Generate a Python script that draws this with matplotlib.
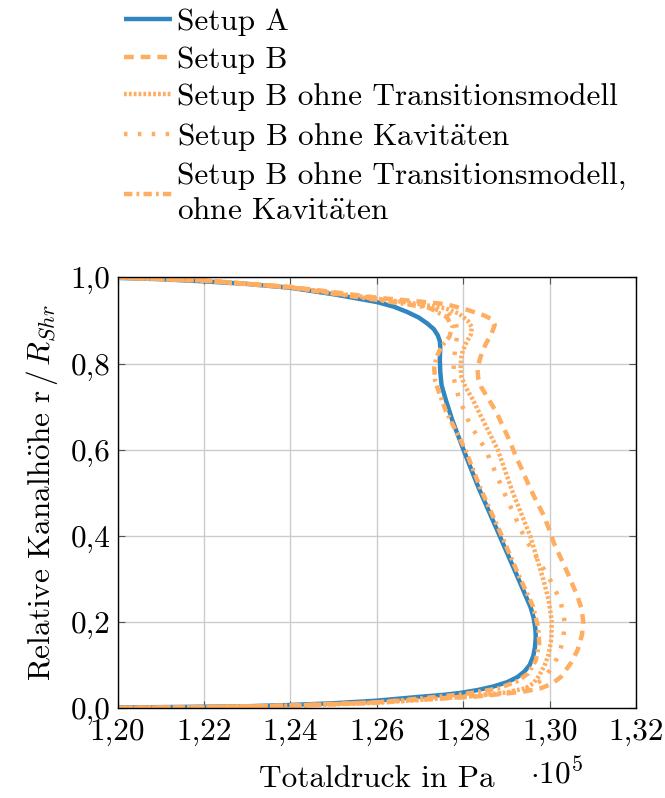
import matplotlib
matplotlib.use("Agg")
import matplotlib.pyplot as plt
from matplotlib.ticker import FuncFormatter

plt.rcParams['font.family'] = ['cmr10', 'DejaVu Serif']
plt.rcParams['mathtext.fontset'] = 'cm'
plt.rcParams['axes.unicode_minus'] = False
plt.rcParams['lines.scale_dashes'] = False

FS = 22.5

# Total pressure in 1e5 Pa, relative channel height r/R_Shr
setup_a_p = [1.2000, 1.2100, 1.2200, 1.2300, 1.2400, 1.2500, 1.2600, 1.2640, 1.2670, 1.2697,
             1.2717, 1.2732, 1.2741, 1.2746, 1.2747, 1.2746, 1.2747, 1.2750, 1.2760, 1.2775,
             1.2801, 1.2835, 1.2880, 1.2926, 1.2956, 1.2963, 1.2967, 1.2968, 1.2966, 1.2962,
             1.2954, 1.2942, 1.2926, 1.2902, 1.2870, 1.2835, 1.2794, 1.2750, 1.2700, 1.2600,
             1.2500, 1.2400, 1.2300, 1.2200, 1.2000]
setup_a_h = [0.999, 0.996, 0.991, 0.985, 0.976, 0.961, 0.943, 0.932, 0.920, 0.907,
             0.893, 0.880, 0.866, 0.852, 0.838, 0.810, 0.780, 0.750, 0.715, 0.668,
             0.599, 0.513, 0.410, 0.304, 0.234, 0.210, 0.185, 0.165, 0.140, 0.120,
             0.100, 0.085, 0.072, 0.060, 0.050, 0.042, 0.035, 0.030, 0.026, 0.017,
             0.011, 0.007, 0.004, 0.003, 0.001]

setup_b_p = [1.2000, 1.2200, 1.2400, 1.2500, 1.2600, 1.2700, 1.2760, 1.2809, 1.2848, 1.2868,
             1.2873, 1.2866, 1.2852, 1.2840, 1.2833, 1.2835, 1.2842, 1.2856, 1.2877, 1.2893,
             1.2907, 1.2923, 1.2937, 1.2952, 1.2968, 1.2984, 1.2998, 1.3010, 1.3042, 1.3065,
             1.3074, 1.3078, 1.3075, 1.3065, 1.3049, 1.3026, 1.3005, 1.2980, 1.2945, 1.2903,
             1.2833, 1.2731, 1.2655, 1.2600, 1.2400, 1.2200, 1.2000]
setup_b_h = [1.000, 0.993, 0.978, 0.966, 0.953, 0.944, 0.938, 0.925, 0.912, 0.902,
             0.890, 0.870, 0.845, 0.815, 0.789, 0.765, 0.745, 0.722, 0.687, 0.652,
             0.622, 0.582, 0.552, 0.517, 0.483, 0.452, 0.418, 0.383, 0.313, 0.258,
             0.230, 0.200, 0.170, 0.135, 0.104, 0.072, 0.056, 0.046, 0.039, 0.034,
             0.027, 0.021, 0.017, 0.013, 0.006, 0.002, 0.000]

no_trans_p = [1.2000, 1.2200, 1.2400, 1.2600, 1.2700, 1.2760, 1.2790, 1.2810, 1.2820, 1.2818,
              1.2808, 1.2799, 1.2795, 1.2794, 1.2796, 1.2804, 1.2812, 1.2821, 1.2845, 1.2880,
              1.2915, 1.2955, 1.2985, 1.2998, 1.3005, 1.3004, 1.2998, 1.2988, 1.2975, 1.2963,
              1.2945, 1.2900, 1.2830, 1.2730, 1.2600, 1.2400, 1.2200, 1.2000]
no_trans_h = [1.000, 0.993, 0.977, 0.951, 0.938, 0.928, 0.916, 0.900, 0.885, 0.868,
              0.850, 0.830, 0.810, 0.789, 0.769, 0.749, 0.734, 0.719, 0.670, 0.600,
              0.500, 0.400, 0.300, 0.250, 0.200, 0.160, 0.125, 0.098, 0.074, 0.058,
              0.046, 0.036, 0.028, 0.021, 0.012, 0.005, 0.002, 0.000]

no_cav_p = [1.2000, 1.2200, 1.2400, 1.2600, 1.2700, 1.2765, 1.2783, 1.2787, 1.2782, 1.2778,
            1.2778, 1.2790, 1.2815, 1.2852, 1.2895, 1.2940, 1.3000, 1.3025, 1.3035, 1.3032,
            1.3025, 1.3012, 1.2995, 1.2976, 1.2945, 1.2900, 1.2830, 1.2730, 1.2600, 1.2400,
            1.2200, 1.2000]
no_cav_h = [1.000, 0.992, 0.977, 0.950, 0.936, 0.918, 0.895, 0.870, 0.840, 0.800,
            0.766, 0.720, 0.660, 0.600, 0.500, 0.400, 0.300, 0.250, 0.200, 0.165,
            0.135, 0.104, 0.080, 0.061, 0.045, 0.036, 0.029, 0.021, 0.012, 0.005,
            0.002, 0.000]

no_both_p = [1.2000, 1.2200, 1.2400, 1.2600, 1.2720, 1.2762, 1.2775, 1.2768, 1.2750, 1.2738,
             1.2733, 1.2735, 1.2745, 1.2760, 1.2780, 1.2805, 1.2840, 1.2885, 1.2930, 1.2962,
             1.2974, 1.2976, 1.2968, 1.2950, 1.2925, 1.2880, 1.2800, 1.2700, 1.2600, 1.2400,
             1.2200, 1.2000]
no_both_h = [1.000, 0.993, 0.977, 0.948, 0.930, 0.908, 0.886, 0.862, 0.840, 0.815,
             0.790, 0.760, 0.730, 0.690, 0.650, 0.600, 0.510, 0.410, 0.305, 0.235,
             0.185, 0.150, 0.110, 0.080, 0.062, 0.045, 0.032, 0.022, 0.013, 0.005,
             0.002, 0.000]

labels = ["Setup A",
          "Setup B",
          "Setup B ohne Transitionsmodell",
          "Setup B ohne Kavit$\\ddot{\\mathrm{a}}$ten",
          "Setup B ohne Transitionsmodell,\nohne Kavit$\\ddot{\\mathrm{a}}$ten"]

x_ticks = [1.20, 1.22, 1.24, 1.26, 1.28, 1.30, 1.32]
y_ticks = [0.0, 0.2, 0.4, 0.6, 0.8, 1.0]

blue = '#2f86c0'
orange = '#ffad61'
lw = 3.2

fig = plt.figure(figsize=(6.65, 7.98), dpi=100)
ax = fig.add_axes([0.1767, 0.1128, 0.7797, 0.5395])

series = [
    (setup_a_p, setup_a_h, blue, (0, ())),
    (setup_b_p, setup_b_h, orange, (0, (7.0, 5.0))),
    (no_trans_p, no_trans_h, orange, (0, (2.0, 1.5))),
    (no_cav_p, no_cav_h, orange, (0, (2.5, 7.5))),
    (no_both_p, no_both_h, orange, (0, (6.0, 3.0, 2.0, 3.0))),
]
handles = []
for (p, h, c, ls), lab in zip(series, labels):
    ln, = ax.plot(p, h, color=c, lw=lw, linestyle=ls, label=lab,
                  solid_capstyle='butt', dash_capstyle='butt',
                  solid_joinstyle='round')
    handles.append(ln)

ax.set_xlim(1.20, 1.32)
ax.set_ylim(0.0, 1.0)
ax.set_xticks(x_ticks)
ax.set_yticks(y_ticks)
ax.xaxis.set_major_formatter(FuncFormatter(lambda v, _: f"{v:.2f}".replace('.', ',')))
ax.yaxis.set_major_formatter(FuncFormatter(lambda v, _: f"{v:.1f}".replace('.', ',')))
ax.grid(True, color='#cccccc', lw=1.0)
ax.set_axisbelow(True)
ax.tick_params(direction='in', length=5, width=0.8, color='#555555',
               top=True, right=True, labelsize=FS)
ax.tick_params(axis='x', pad=7)
ax.tick_params(axis='y', pad=5)
for s in ax.spines.values():
    s.set_linewidth(1.0)
    s.set_color('black')

ax.set_xlabel("Totaldruck in Pa", fontsize=FS, labelpad=14)
ax.set_ylabel("Relative Kanalh$\\ddot{\\mathrm{o}}$he r$\\,/\\,R_{Shr}$", fontsize=FS, labelpad=8)
fig.text(0.797, 0.018, "$\\cdot 10^5$", fontsize=FS, ha='left', va='baseline')

leg = fig.legend(handles=handles, loc='upper left', bbox_to_anchor=(0.186, 0.99),
                 frameon=False, fontsize=FS, handlelength=1.55, handletextpad=0.15,
                 labelspacing=0.31, borderpad=0.0, borderaxespad=0.0)
for t in leg.get_texts():
    t.set_linespacing(1.3)

fig.savefig("out.png", dpi=100)
